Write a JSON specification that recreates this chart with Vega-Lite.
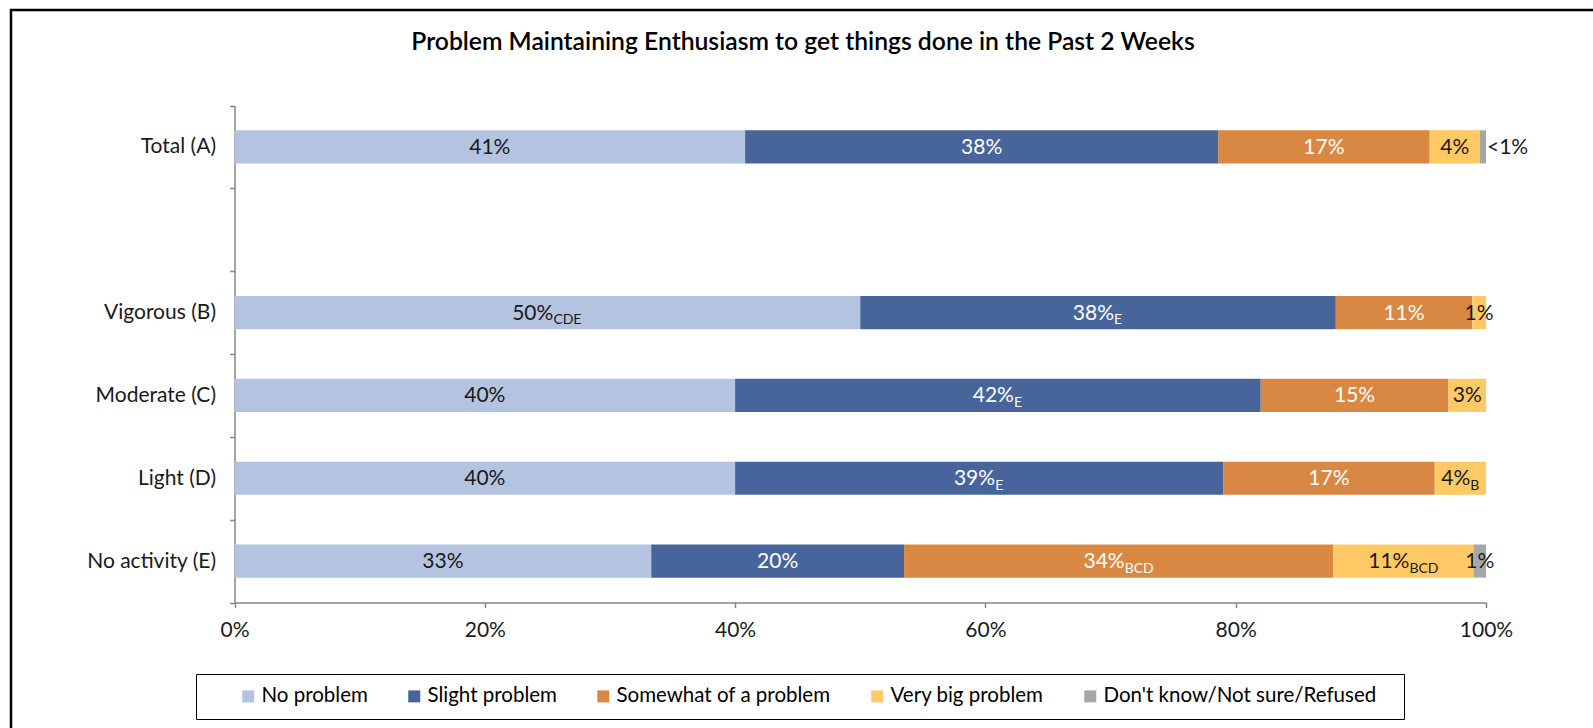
{
  "$schema": "https://vega.github.io/schema/vega-lite/v6.json",
  "width": 1600,
  "height": 740,
  "autosize": {"type": "none"},
  "padding": {"left": 11, "top": 10, "right": 0, "bottom": 0},
  "background": "white",
  "config": {
    "view": {"stroke": "black", "strokeWidth": 2.5},
    "font": "Lato",
    "text": {"font": "Lato"}
  },
  "title": {
    "text": "Problem Maintaining Enthusiasm to get things done in the Past 2 Weeks",
    "orient": "top",
    "anchor": "middle",
    "frame": "group",
    "offset": -43,
    "baseline": "alphabetic",
    "dx": -8,
    "dy": 33,
    "font": "Lato",
    "fontSize": 24.7,
    "fontWeight": 600,
    "color": "black"
  },
  "data": {
    "values": [
      {"group": "Total (A)", "resp": "No problem", "pct": 40.8, "label": "41%", "sub": ""},
      {"group": "Total (A)", "resp": "Slight problem", "pct": 37.8, "label": "38%", "sub": ""},
      {"group": "Total (A)", "resp": "Somewhat of a problem", "pct": 16.9, "label": "17%", "sub": ""},
      {"group": "Total (A)", "resp": "Very big problem", "pct": 4.0, "label": "4%", "sub": ""},
      {"group": "Total (A)", "resp": "Don't know/Not sure/Refused", "pct": 0.5, "label": "<1%", "sub": ""},
      {"group": "Vigorous (B)", "resp": "No problem", "pct": 50.0, "label": "50%", "sub": "CDE"},
      {"group": "Vigorous (B)", "resp": "Slight problem", "pct": 38.0, "label": "38%", "sub": "E"},
      {"group": "Vigorous (B)", "resp": "Somewhat of a problem", "pct": 10.9, "label": "11%", "sub": ""},
      {"group": "Vigorous (B)", "resp": "Very big problem", "pct": 1.1, "label": "1%", "sub": ""},
      {"group": "Moderate (C)", "resp": "No problem", "pct": 40.0, "label": "40%", "sub": ""},
      {"group": "Moderate (C)", "resp": "Slight problem", "pct": 42.0, "label": "42%", "sub": "E"},
      {"group": "Moderate (C)", "resp": "Somewhat of a problem", "pct": 15.0, "label": "15%", "sub": ""},
      {"group": "Moderate (C)", "resp": "Very big problem", "pct": 3.0, "label": "3%", "sub": ""},
      {"group": "Light (D)", "resp": "No problem", "pct": 40.0, "label": "40%", "sub": ""},
      {"group": "Light (D)", "resp": "Slight problem", "pct": 39.0, "label": "39%", "sub": "E"},
      {"group": "Light (D)", "resp": "Somewhat of a problem", "pct": 16.9, "label": "17%", "sub": ""},
      {"group": "Light (D)", "resp": "Very big problem", "pct": 4.1, "label": "4%", "sub": "B"},
      {"group": "No activity (E)", "resp": "No problem", "pct": 33.3, "label": "33%", "sub": ""},
      {"group": "No activity (E)", "resp": "Slight problem", "pct": 20.2, "label": "20%", "sub": ""},
      {"group": "No activity (E)", "resp": "Somewhat of a problem", "pct": 34.3, "label": "34%", "sub": "BCD"},
      {"group": "No activity (E)", "resp": "Very big problem", "pct": 11.2, "label": "11%", "sub": "BCD"},
      {"group": "No activity (E)", "resp": "Don't know/Not sure/Refused", "pct": 1.0, "label": "1%", "sub": ""}
    ]
  },
  "transform": [
    {"calculate": "indexof(['No problem','Slight problem','Somewhat of a problem','Very big problem','Don\\'t know/Not sure/Refused'], datum.resp)", "as": "k"},
    {"window": [{"op": "sum", "field": "pct", "as": "cum"}], "groupby": ["group"], "sort": [{"field": "k", "order": "ascending"}], "frame": [null, 0]},
    {"calculate": "datum.cum - datum.pct / 2", "as": "mid"}
  ],
  "encoding": {
    "y": {
      "field": "group",
      "type": "nominal",
      "title": null,
      "scale": {
        "domain": ["Total (A)", " ", "Vigorous (B)", "Moderate (C)", "Light (D)", "No activity (E)"],
        "range": [95.5, 592.5],
        "paddingInner": 0,
        "paddingOuter": 0
      },
      "axis": {
        "orient": "left",
        "offset": -223.5,
        "domainColor": "#868686",
        "domainWidth": 1.5,
        "tickColor": "#868686",
        "tickWidth": 1.5,
        "tickSize": 5,
        "tickBand": "extent",
        "labelFont": "Lato",
        "labelFontSize": 21,
        "labelColor": "#1a1a1a",
        "labelPadding": 14,
        "labelLimit": 300
      }
    }
  },
  "layer": [
    {
      "mark": {"type": "bar", "height": {"band": 0.4}},
      "encoding": {
        "x": {
          "field": "pct",
          "type": "quantitative",
          "stack": "zero",
          "title": null,
          "scale": {"domain": [0, 100], "range": [223.5, 1475], "nice": false, "zero": true},
          "axis": {
            "orient": "bottom",
            "offset": -147.5,
            "values": [0, 20, 40, 60, 80, 100],
            "labelExpr": "datum.value + '%'",
            "labelFlush": false,
            "grid": false,
            "domainColor": "#868686",
            "domainWidth": 1.5,
            "tickColor": "#868686",
            "tickWidth": 1.5,
            "tickSize": 5,
            "labelFont": "Lato",
            "labelFontSize": 21,
            "labelColor": "#1a1a1a",
            "labelPadding": 12
          }
        },
        "color": {
          "field": "resp",
          "type": "nominal",
          "scale": {
            "domain": ["No problem", "Slight problem", "Somewhat of a problem", "Very big problem", "Don't know/Not sure/Refused"],
            "range": ["#B4C3DF", "#47659A", "#D88843", "#FFC966", "#A6A6A6"]
          },
          "legend": {
            "orient": "none",
            "legendX": 185,
            "legendY": 664,
            "direction": "horizontal",
            "title": " ",
            "titleOrient": "right",
            "titlePadding": 16,
            "titleFontSize": 10,
            "labelFont": "Lato",
            "labelFontSize": 20.5,
            "labelColor": "black",
            "labelLimit": 400,
            "symbolType": "square",
            "symbolSize": 144,
            "symbolStrokeWidth": 0,
            "padding": 12,
            "strokeColor": "black",
            "symbolOffset": 30,
            "columnPadding": 6,
            "labelOffset": 3
          }
        },
        "order": {"field": "k", "type": "quantitative"}
      }
    },
    {
      "transform": [{"filter": "datum.sub === '' && datum.label !== '<1%'"}],
      "mark": {"type": "text", "align": "center", "baseline": "alphabetic", "dy": 7, "fontSize": 21, "font": "Lato"},
      "encoding": {
        "x": {"field": "mid", "type": "quantitative", "stack": null, "title": null},
        "text": {"field": "label"},
        "color": {"condition": {"test": "datum.resp === 'Slight problem' || datum.resp === 'Somewhat of a problem'", "value": "white"}, "value": "#1a1a1a"}
      }
    },
    {
      "transform": [{"filter": "datum.label === '<1%'"}],
      "mark": {"type": "text", "align": "left", "baseline": "alphabetic", "dy": 7, "dx": 1, "fontSize": 21, "font": "Lato"},
      "encoding": {
        "x": {"field": "cum", "type": "quantitative", "stack": null, "title": null},
        "text": {"field": "label"},
        "color": {"value": "#1a1a1a"}
      }
    },
    {
      "transform": [{"filter": "length(datum.sub) === 3"}],
      "mark": {"type": "text", "align": "right", "baseline": "alphabetic", "dy": 7, "dx": 6, "fontSize": 21, "font": "Lato"},
      "encoding": {
        "x": {"field": "mid", "type": "quantitative", "stack": null, "title": null},
        "text": {"field": "label"},
        "color": {"condition": {"test": "datum.resp === 'Slight problem' || datum.resp === 'Somewhat of a problem'", "value": "white"}, "value": "#1a1a1a"}
      }
    },
    {
      "transform": [{"filter": "length(datum.sub) === 3"}],
      "mark": {"type": "text", "align": "left", "baseline": "alphabetic", "dy": 11.6, "dx": 6, "fontSize": 14, "font": "Lato"},
      "encoding": {
        "x": {"field": "mid", "type": "quantitative", "stack": null, "title": null},
        "text": {"field": "sub"},
        "color": {"condition": {"test": "datum.resp === 'Slight problem' || datum.resp === 'Somewhat of a problem'", "value": "white"}, "value": "#1a1a1a"}
      }
    },
    {
      "transform": [{"filter": "length(datum.sub) === 1 && length(datum.label) === 3"}],
      "mark": {"type": "text", "align": "right", "baseline": "alphabetic", "dy": 7, "dx": 16, "fontSize": 21, "font": "Lato"},
      "encoding": {
        "x": {"field": "mid", "type": "quantitative", "stack": null, "title": null},
        "text": {"field": "label"},
        "color": {"condition": {"test": "datum.resp === 'Slight problem' || datum.resp === 'Somewhat of a problem'", "value": "white"}, "value": "#1a1a1a"}
      }
    },
    {
      "transform": [{"filter": "length(datum.sub) === 1 && length(datum.label) === 3"}],
      "mark": {"type": "text", "align": "left", "baseline": "alphabetic", "dy": 11.6, "dx": 16, "fontSize": 14, "font": "Lato"},
      "encoding": {
        "x": {"field": "mid", "type": "quantitative", "stack": null, "title": null},
        "text": {"field": "sub"},
        "color": {"condition": {"test": "datum.resp === 'Slight problem' || datum.resp === 'Somewhat of a problem'", "value": "white"}, "value": "#1a1a1a"}
      }
    },
    {
      "transform": [{"filter": "length(datum.sub) === 1 && length(datum.label) === 2"}],
      "mark": {"type": "text", "align": "right", "baseline": "alphabetic", "dy": 7, "dx": 10, "fontSize": 21, "font": "Lato"},
      "encoding": {
        "x": {"field": "mid", "type": "quantitative", "stack": null, "title": null},
        "text": {"field": "label"},
        "color": {"value": "#1a1a1a"}
      }
    },
    {
      "transform": [{"filter": "length(datum.sub) === 1 && length(datum.label) === 2"}],
      "mark": {"type": "text", "align": "left", "baseline": "alphabetic", "dy": 11.6, "dx": 10, "fontSize": 14, "font": "Lato"},
      "encoding": {
        "x": {"field": "mid", "type": "quantitative", "stack": null, "title": null},
        "text": {"field": "sub"},
        "color": {"value": "#1a1a1a"}
      }
    }
  ]
}
